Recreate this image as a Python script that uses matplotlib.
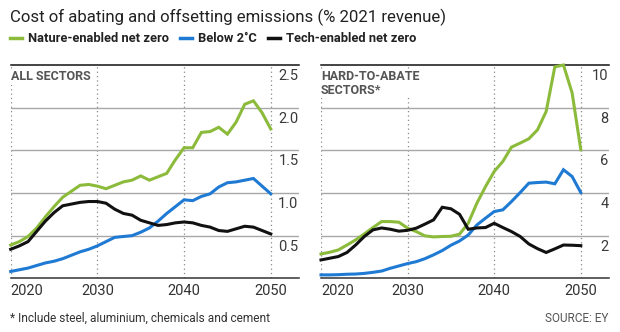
import matplotlib
matplotlib.use("Agg")
import matplotlib.pyplot as plt
import matplotlib.transforms as mtransforms

plt.rcParams['font.family'] = ['Roboto', 'DejaVu Sans']

years = list(range(2020, 2051))

# All sectors
all_nature = [0.39, 0.43, 0.49, 0.59, 0.72, 0.84, 0.95, 1.02, 1.09, 1.10, 1.08, 1.05, 1.09, 1.13, 1.15, 1.20,
              1.15, 1.19, 1.23, 1.39, 1.53, 1.53, 1.71, 1.72, 1.77, 1.69, 1.83, 2.04, 2.08, 1.94, 1.75]
all_below2 = [0.08, 0.10, 0.12, 0.15, 0.18, 0.20, 0.23, 0.27, 0.31, 0.34, 0.38, 0.43, 0.48, 0.49, 0.50, 0.54,
              0.59, 0.67, 0.76, 0.84, 0.92, 0.91, 0.96, 0.99, 1.07, 1.12, 1.13, 1.15, 1.17, 1.08, 0.99]
all_tech = [0.34, 0.38, 0.43, 0.55, 0.67, 0.77, 0.85, 0.87, 0.89, 0.90, 0.90, 0.88, 0.81, 0.76, 0.74, 0.68,
            0.65, 0.62, 0.63, 0.65, 0.66, 0.65, 0.62, 0.60, 0.56, 0.55, 0.58, 0.61, 0.60, 0.56, 0.52]

# Hard-to-abate sectors
hard_nature = [1.14, 1.22, 1.33, 1.56, 1.80, 2.08, 2.38, 2.66, 2.66, 2.63, 2.35, 2.19, 1.99, 1.94, 1.96, 1.97,
               2.07, 2.58, 3.52, 4.30, 5.01, 5.48, 6.15, 6.34, 6.54, 6.96, 7.82, 9.91, 10.0, 8.69, 6.03]
hard_below2 = [0.16, 0.16, 0.17, 0.19, 0.20, 0.23, 0.28, 0.34, 0.47, 0.58, 0.69, 0.78, 0.92, 1.10, 1.30, 1.55,
               1.75, 2.03, 2.50, 2.82, 3.13, 3.21, 3.60, 4.02, 4.46, 4.49, 4.51, 4.43, 5.09, 4.77, 4.02]
hard_tech = [0.86, 0.94, 1.02, 1.21, 1.56, 1.96, 2.27, 2.36, 2.30, 2.21, 2.25, 2.35, 2.54, 2.74, 3.33, 3.26,
             3.00, 2.30, 2.36, 2.38, 2.58, 2.38, 2.19, 1.96, 1.61, 1.39, 1.21, 1.38, 1.56, 1.55, 1.53]

series_names = ["Nature-enabled net zero", "Below 2˚C", "Tech-enabled net zero"]
colors = ["#8cbb3c", "#1f7ad3", "#111111"]

xticks = [2020, 2030, 2040, 2050]
left_yticks = [0.5, 1.0, 1.5, 2.0, 2.5]
left_ylabels = ["0.5", "1.0", "1.5", "2.0", "2.5"]
right_yticks = [2, 4, 6, 8, 10]
right_ylabels = ["2", "4", "6", "8", "10"]

W, H = 620, 332
fig = plt.figure(figsize=(W / 100, H / 100), dpi=100)


def px_axes(x0, y0, x1, y1):
    return fig.add_axes([x0 / W, 1 - y1 / H, (x1 - x0) / W, (y1 - y0) / H])


def panel(ax, data, yticks, ylabels, ymax, label):
    ax.set_xlim(2020, 2053.2)
    ax.set_ylim(0, ymax)
    for s in ax.spines.values():
        s.set_visible(False)
    ax.set_yticks([])
    for yv in yticks[:-1]:
        ax.axhline(yv, color="#a8a8a8", lw=1.0, zorder=1)
    ax.axhline(ymax, color="#111111", lw=1.1, zorder=1, clip_on=False)
    ax.axhline(0, color="#333333", lw=1.1, zorder=1, clip_on=False)
    for xv in xticks:
        ax.axvline(xv, color="#888888", lw=0.9, ls=(0, (1, 2.5)), zorder=0)
    for d, c in zip(data, colors):
        ax.plot(years, d, color=c, lw=2.2, zorder=3, clip_on=False, solid_joinstyle="miter")
    trans = mtransforms.blended_transform_factory(ax.transAxes, ax.transData)
    off = mtransforms.ScaledTranslation(0, -4 / 100, fig.dpi_scale_trans)
    for yv, lab in zip(yticks, ylabels):
        ax.text(1.0, yv, lab, transform=trans + off, ha="right", va="top", fontsize=10.5,
                color="#3a3a3a")
    ax.set_xticks(xticks)
    ax.set_xticklabels([str(x) for x in xticks], fontsize=10.5, color="#333333")
    ax.tick_params(axis="x", length=0, pad=4)
    ax.get_xticklabels()[0].set_horizontalalignment("left")
    ax.text(0.0, 0.975, label, transform=ax.transAxes, ha="left", va="top", fontsize=9,
            fontweight="bold", color="#555555", linespacing=1.05,
            bbox=dict(facecolor="white", edgecolor="none", pad=1.0), zorder=5)


ax1 = px_axes(10.7, 65, 298.5, 278.3)
panel(ax1, [all_nature, all_below2, all_tech], left_yticks, left_ylabels, 2.5, "ALL SECTORS")
ax2 = px_axes(321, 65, 608.5, 278.3)
panel(ax2, [hard_nature, hard_below2, hard_tech], right_yticks, right_ylabels, 10, "HARD-TO-ABATE\nSECTORS*")

fig.text(10 / W, 1 - 17 / H, "Cost of abating and offsetting emissions (% 2021 revenue)",
         ha="left", va="center", fontsize=12.1, color="#222222")

# legend
leg_x = [10, 180, 268]
for lx, name, c in zip(leg_x, series_names, colors):
    fig.add_artist(plt.Line2D([lx / W, (lx + 12) / W], [1 - 38 / H, 1 - 38 / H], color=c, lw=2.5))
    fig.text((lx + 18) / W, 1 - 38 / H, name, ha="left", va="center", fontsize=9.3,
             fontweight="bold", color="#222222")

fig.text(10 / W, 1 - 318 / H, "* Include steel, aluminium, chemicals and cement",
         ha="left", va="center", fontsize=8.6, color="#333333")
fig.text(608 / W, 1 - 318 / H, "SOURCE: EY", ha="right", va="center", fontsize=8.5, color="#555555")

fig.savefig("out.png", dpi=100)
